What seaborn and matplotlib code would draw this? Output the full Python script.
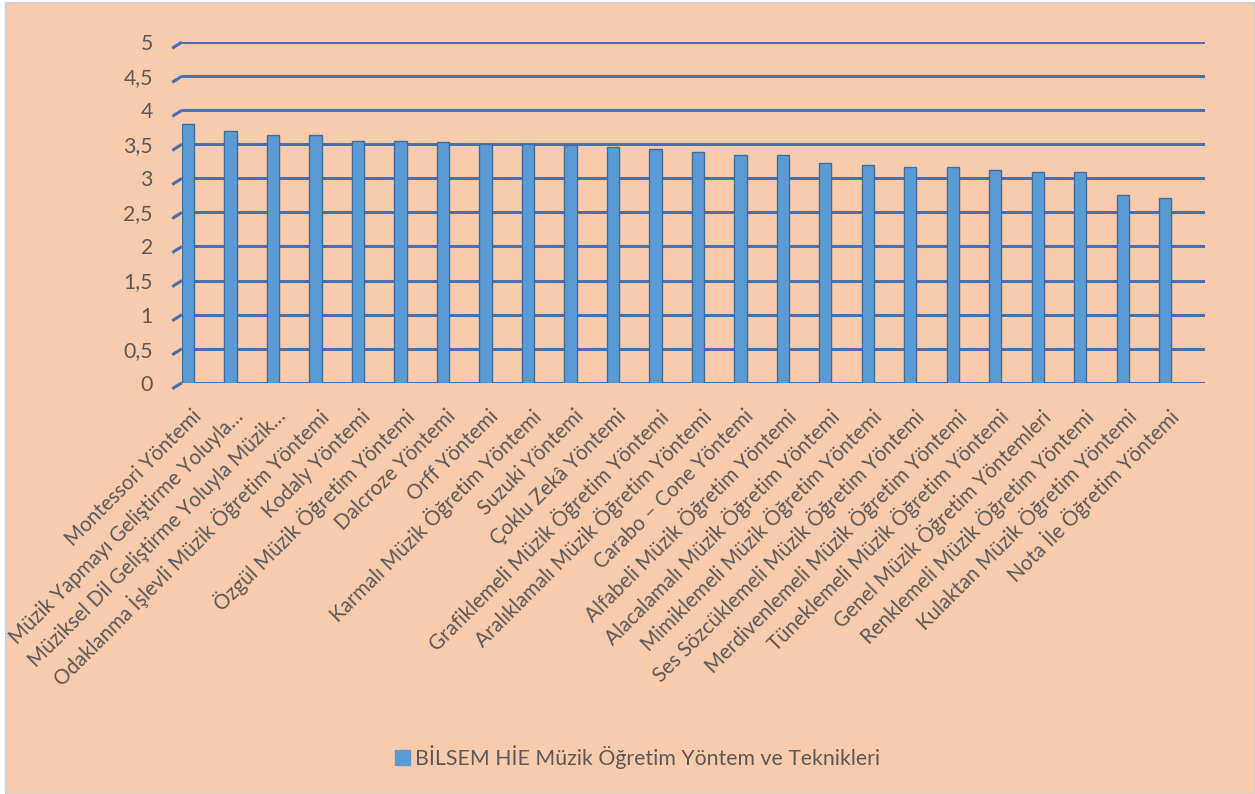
import numpy as np
import pandas as pd
import matplotlib
matplotlib.use("Agg")
import matplotlib.pyplot as plt
import matplotlib.transforms as mtransforms
from matplotlib.patches import Rectangle
from matplotlib.ticker import FuncFormatter
import seaborn as sns

methods = [
    "Montessori Yöntemi",
    "Müzik Yapmayı Geliştirme Yoluyla…",
    "Müziksel Dil Geliştirme Yoluyla Müzik…",
    "Odaklanma İşlevli Müzik Öğretim Yöntemi",
    "Kodaly Yöntemi",
    "Özgül Müzik Öğretim Yöntemi",
    "Dalcroze Yöntemi",
    "Orff Yöntemi",
    "Karmalı Müzik Öğretim Yöntemi",
    "Suzuki Yöntemi",
    "Çoklu Zekâ Yöntemi",
    "Grafiklemeli Müzik Öğretim Yöntemi",
    "Aralıklamalı Müzik Öğretim Yöntemi",
    "Carabo – Cone Yöntemi",
    "Alfabeli Müzik Öğretim Yöntemi",
    "Alacalamalı Müzik Öğretim Yöntemi",
    "Mimiklemeli Müzik Öğretim Yöntemi",
    "Ses Sözcüklemeli Müzik Öğretim Yöntemi",
    "Merdivenlemeli Müzik Öğretim Yöntemi",
    "Tüneklemeli Müzik Öğretim Yöntemi",
    "Genel Müzik Öğretim Yöntemleri",
    "Renklemeli Müzik Öğretim Yöntemi",
    "Kulaktan Müzik Öğretim Yöntemi",
    "Nota İle Öğretim Yöntemi",
]
scores = [3.80, 3.70, 3.63, 3.63, 3.55, 3.55, 3.53, 3.50, 3.50, 3.49, 3.46, 3.43,
          3.39, 3.34, 3.34, 3.23, 3.19, 3.16, 3.16, 3.12, 3.10, 3.10, 2.75, 2.71]
yticks = [0, 0.5, 1, 1.5, 2, 2.5, 3, 3.5, 4, 4.5, 5]
series_name = "BİLSEM HİE Müzik Öğretim Yöntem ve Teknikleri"

df = pd.DataFrame({"Yöntem": methods, "Puan": scores})

bg = "#F8CBAD"
bar_col = "#5B9BD5"
grid_col = "#4A6FB0"
text_col = "#595959"
fs = 15.3
xfs = 14.8

sns.set_theme(style="white")
plt.rcParams["font.family"] = ["Lato", "DejaVu Sans"]

fig = plt.figure(figsize=(12.55, 7.94), dpi=100)
fig.patch.set_facecolor("white")
fig.patches.append(Rectangle((0.005, 0.0), 0.995, 0.996, transform=fig.transFigure,
                             facecolor=bg, edgecolor="#D0D0D0", linewidth=1.5, zorder=-10))

ax = fig.add_axes([0.145, 0.518, 0.815, 0.429])
ax.set_facecolor("none")

sns.barplot(data=df, x="Yöntem", y="Puan", color=bar_col, width=0.29,
            edgecolor="#3F6E9C", linewidth=1.0, saturation=1, ax=ax, zorder=3,
            label=series_name)

ax.set_ylim(0, 5)
ax.set_xlim(-0.14, 23.93)
ax.set_yticks(yticks)
ax.yaxis.set_major_formatter(FuncFormatter(lambda v, p: f"{v:g}".replace(".", ",")))

stub = mtransforms.blended_transform_factory(ax.transAxes, ax.transData)
for v in yticks:
    ax.axhline(v, color=grid_col, linewidth=2.2, zorder=1)
    # small perspective stubs on the left
    ax.plot([-0.0095, 0], [v - 0.09, v], color=grid_col, linewidth=2.2,
            transform=stub, clip_on=False, zorder=1, solid_capstyle="butt")

for s in ax.spines.values():
    s.set_visible(False)

ax.set_xlabel("")
ax.set_ylabel("")
ax.tick_params(axis="y", length=0, pad=21, labelsize=fs, labelcolor=text_col)
ax.tick_params(axis="x", length=0, pad=4, labelsize=xfs, labelcolor=text_col)
offset = mtransforms.ScaledTranslation(10 / 100, -25 / 100, fig.dpi_scale_trans)
for lab in ax.get_xticklabels():
    lab.set_rotation(45)
    lab.set_ha("right")
    lab.set_va("center")
    lab.set_rotation_mode("anchor")
    lab.set_transform(lab.get_transform() + offset)

ax.legend(loc="center", frameon=False, fontsize=fs, labelcolor=text_col,
          handlelength=0.7, handleheight=0.7, handletextpad=0.2)
leg = ax.get_legend()
leg.set_bbox_to_anchor((0.508, 1 - 757 / 794), transform=fig.transFigure)
for h in leg.legend_handles:
    h.set_edgecolor(bar_col)

fig.savefig("out.png", dpi=100, facecolor=fig.get_facecolor())
